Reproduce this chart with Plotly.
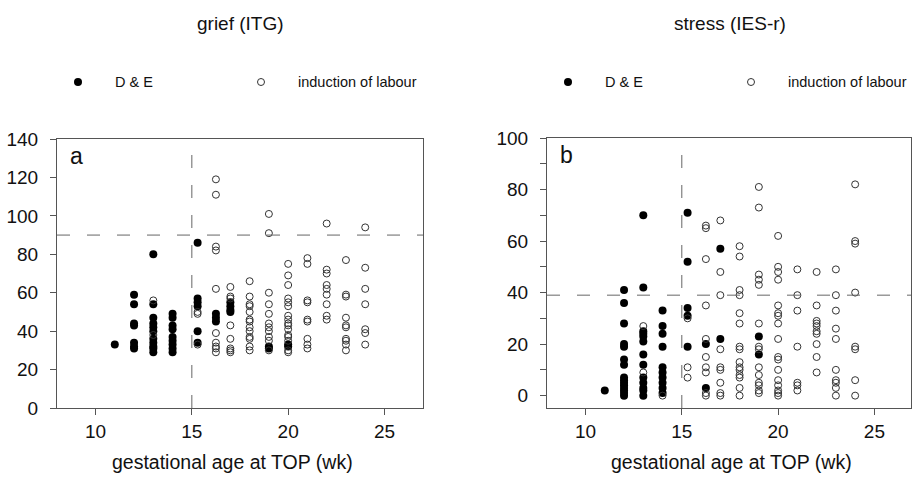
import plotly.graph_objects as go

# ---------------- data (gestational age in weeks, score) ----------------
# grief (ITG) - D & E
grief_de_x = [11,
              12, 12, 12, 12, 12, 12, 12,
              13, 13, 13, 13, 13, 13, 13, 13, 13, 13, 13,
              14, 14, 14, 14, 14, 14, 14, 14, 14,
              15.3, 15.3, 15.3, 15.3, 15.3, 15.3,
              16.25, 16.25, 16.25,
              17, 17, 17, 17,
              19, 19,
              20, 20]
grief_de_y = [33,
              59, 54, 44, 43, 34, 32, 31,
              80, 54, 47, 44, 42, 40, 36, 34, 32, 31, 29,
              49, 47, 43, 41, 37, 35, 33, 31, 29,
              86, 57, 55, 53, 40, 34,
              49, 47, 45,
              55, 53, 51, 50,
              32, 31,
              33, 32]

# grief (ITG) - induction of labour
grief_ind_x = [13, 13,
               15.3, 15.3, 15.3,
               16.25, 16.25, 16.25, 16.25, 16.25, 16.25, 16.25, 16.25, 16.25, 16.25,
               17, 17, 17, 17, 17, 17, 17, 17,
               18, 18, 18, 18, 18, 18, 18, 18, 18, 18, 18, 18, 18,
               19, 19, 19, 19, 19, 19, 19, 19, 19, 19, 19,
               20, 20, 20, 20, 20, 20, 20, 20, 20, 20, 20, 20, 20, 20, 20, 20,
               21, 21, 21, 21, 21, 21, 21, 21, 21,
               22, 22, 22, 22, 22, 22, 22, 22, 22,
               23, 23, 23, 23, 23, 23, 23, 23, 23, 23,
               24, 24, 24, 24, 24, 24, 24]
grief_ind_y = [56, 38,
               50, 49, 33,
               119, 111, 84, 82, 62, 39, 34, 32, 31, 29,
               63, 58, 57, 43, 36, 31, 30, 29,
               66, 58, 54, 53, 50, 46, 45, 42, 40, 37, 36, 32, 30,
               101, 91, 60, 54, 49, 44, 42, 40, 37, 35, 30,
               75, 69, 64, 57, 55, 53, 48, 46, 44, 43, 41, 38, 37, 35, 30, 29,
               78, 75, 56, 55, 46, 45, 36, 33, 31,
               96, 72, 70, 64, 62, 59, 54, 48, 46,
               77, 59, 58, 47, 43, 42, 36, 35, 33, 30,
               94, 73, 62, 54, 41, 39, 33]

# stress (IES-r) - D & E
stress_de_x = [11,
               12, 12, 12, 12, 12, 12, 12, 12, 12, 12, 12, 12, 12, 12, 12,
               13, 13, 13, 13, 13, 13, 13, 13, 13, 13, 13, 13, 13,
               14, 14, 14, 14, 14, 14, 14, 14, 14, 14,
               15.3, 15.3, 15.3, 15.3, 15.3,
               16.25, 16.25,
               17, 17,
               19, 19]
stress_de_y = [2,
               41, 36, 28, 20, 19, 14, 12, 7, 6, 5, 4, 3, 2, 1, 0,
               70, 42, 25, 24, 23, 21, 16, 12, 7, 5, 3, 2, 0,
               33, 27, 24, 19, 11, 9, 7, 5, 3, 1,
               71, 52, 34, 31, 19,
               20, 3,
               57, 22,
               23, 16]

# stress (IES-r) - induction of labour
stress_ind_x = [13, 13,
                14,
                15.3, 15.3, 15.3,
                16.25, 16.25, 16.25, 16.25, 16.25, 16.25, 16.25, 16.25, 16.25, 16.25,
                17, 17, 17, 17, 17, 17, 17, 17, 17,
                18, 18, 18, 18, 18, 18, 18, 18, 18, 18, 18, 18, 18, 18, 18,
                19, 19, 19, 19, 19, 19, 19, 19, 19, 19, 19, 19, 19, 19,
                20, 20, 20, 20, 20, 20, 20, 20, 20, 20, 20, 20, 20, 20, 20, 20, 20,
                21, 21, 21, 21, 21, 21, 21,
                22, 22, 22, 22, 22, 22, 22, 22, 22, 22,
                23, 23, 23, 23, 23, 23, 23, 23, 23, 23,
                24, 24, 24, 24, 24, 24, 24, 24]
stress_ind_y = [27, 9,
                0,
                30, 11, 7,
                66, 65, 53, 35, 22, 15, 11, 9, 1, 0,
                68, 48, 39, 18, 11, 10, 5, 1, 0,
                58, 54, 41, 39, 32, 28, 19, 18, 13, 11, 10, 8, 7, 3, 0,
                81, 73, 47, 45, 43, 28, 19, 18, 11, 8, 5, 4, 2, 1,
                62, 50, 48, 45, 35, 32, 31, 28, 22, 15, 14, 10, 6, 4, 2, 1, 0,
                49, 39, 33, 19, 5, 4, 2,
                48, 35, 29, 28, 27, 25, 24, 20, 15, 9,
                49, 39, 33, 26, 22, 10, 6, 5, 3, 0,
                82, 60, 59, 40, 19, 18, 6, 0]

panel_titles = ["grief (ITG)", "stress (IES-r)"]
panel_letters = ["a", "b"]
group_names = ["D & E", "induction of labour"]
x_title = "gestational age at TOP (wk)"
cutoff_week = 15
grief_cutoff = 90
stress_cutoff = 39

# ---------------- figure ----------------
W, H = 913, 477
FONT = "Liberation Sans, Arial, Helvetica, sans-serif"
AX = "#555555"

fig = go.Figure()

def add_points(xs, ys, xa, ya, filled, name):
    if filled:
        marker = dict(symbol="circle", size=8, color="black", line=dict(width=0))
    else:
        marker = dict(symbol="circle-open", size=7, color="#333333", line=dict(width=1, color="#333333"))
    fig.add_trace(go.Scatter(x=xs, y=ys, mode="markers", marker=marker, name=name,
                             xaxis=xa, yaxis=ya, showlegend=False))

add_points(grief_de_x, grief_de_y, "x", "y", True, group_names[0])
add_points(grief_ind_x, grief_ind_y, "x", "y", False, group_names[1])
add_points(stress_de_x, stress_de_y, "x2", "y2", True, group_names[0])
add_points(stress_ind_x, stress_ind_y, "x2", "y2", False, group_names[1])

axis_common = dict(showgrid=False, zeroline=False, showline=True, linecolor=AX, linewidth=1,
                   mirror=True, ticks="outside", ticklen=6, tickcolor=AX, tickwidth=1,
                   automargin=False,
                   tickfont=dict(size=19, color="#111111", family=FONT))

left_x0, left_x1 = 57, 423
right_x0, right_x1 = 547, 911
bot = 408

fig.update_layout(
    width=W, height=H, margin=dict(l=0, r=0, t=0, b=0, autoexpand=False),
    paper_bgcolor="white", plot_bgcolor="white", showlegend=False,
    font=dict(family=FONT, size=19, color="#111111"),
    xaxis=dict(axis_common, domain=[left_x0 / W, left_x1 / W], range=[8, 27],
               tickvals=[10, 15, 20, 25], anchor="y", ticklabelstandoff=0),
    yaxis=dict(axis_common, domain=[(H - bot) / H, (H - 139) / H], range=[0, 140],
               dtick=20, tick0=0, anchor="x", ticklabelstandoff=8),
    xaxis2=dict(axis_common, domain=[right_x0 / W, right_x1 / W], range=[8, 26.9],
                tickvals=[10, 15, 20, 25], anchor="y2", ticklabelstandoff=0),
    yaxis2=dict(axis_common, domain=[(H - bot) / H, (H - 138) / H], range=[-4.8, 100],
                dtick=20, tick0=0, anchor="x2", ticklabelstandoff=8,
                minor=dict(dtick=10, tick0=0, ticks="outside", ticklen=6, tickcolor=AX, showgrid=False)),
)

dash = "13px,17px"
LC = "#666666"
# cut-off lines
fig.add_shape(type="line", xref="x", yref="y", x0=8, x1=27, y0=grief_cutoff, y1=grief_cutoff,
              line=dict(color=LC, width=1, dash=dash))
fig.add_shape(type="line", xref="x", yref="y", x0=cutoff_week, x1=cutoff_week, y0=0, y1=140,
              line=dict(color=LC, width=1, dash=dash))
fig.add_shape(type="line", xref="x2", yref="y2", x0=8, x1=26.9, y0=stress_cutoff, y1=stress_cutoff,
              line=dict(color=LC, width=1, dash=dash))
fig.add_shape(type="line", xref="x2", yref="y2", x0=cutoff_week, x1=cutoff_week, y0=-4.8, y1=100,
              line=dict(color=LC, width=1, dash=dash))

def px(x):
    return x / W

def py(y):
    return (H - y) / H

annotations = []
for i, (cx0, cx1) in enumerate([(left_x0, 423), (right_x0, 913)]):
    center = (cx0 + cx1) / 2
    annotations.append(dict(text=panel_titles[i], x=px(center), y=py(24), xref="paper", yref="paper",
                            showarrow=False, xanchor="center", yanchor="middle",
                            font=dict(size=19, family=FONT, color="#111111")))
    annotations.append(dict(text=x_title, x=px(center - 8 + i * 9), y=py(462), xref="paper", yref="paper",
                            showarrow=False, xanchor="center", yanchor="middle",
                            font=dict(size=19.5, family=FONT, color="#111111")))
    annotations.append(dict(text=panel_letters[i], x=px(cx0 + 19), y=py(156 - i * 1), xref="paper",
                            yref="paper", showarrow=False, xanchor="center", yanchor="middle",
                            font=dict(size=23, family=FONT, color="#111111")))
    # legend
    annotations.append(dict(text=group_names[0], x=px(cx0 + 56), y=py(82), xref="paper", yref="paper",
                            showarrow=False, xanchor="left", yanchor="middle",
                            font=dict(size=14.5, family=FONT, color="#111111")))
    annotations.append(dict(text=group_names[1], x=px(cx0 + 239), y=py(82), xref="paper", yref="paper",
                            showarrow=False, xanchor="left", yanchor="middle",
                            font=dict(size=14.5, family=FONT, color="#111111")))
    fx = cx0 + 21
    fig.add_shape(type="circle", xref="paper", yref="paper", x0=px(fx - 4), x1=px(fx + 4),
                  y0=py(82 + 4), y1=py(82 - 4), fillcolor="black", line=dict(width=0))
    ox = cx0 + 204
    fig.add_shape(type="circle", xref="paper", yref="paper", x0=px(ox - 3.5), x1=px(ox + 3.5),
                  y0=py(82 + 3.5), y1=py(82 - 3.5), fillcolor="rgba(0,0,0,0)",
                  line=dict(width=1, color="#333333"))

fig.update_layout(annotations=annotations)

fig.write_html("out.html",
               config={"displayModeBar": False},
               post_script="document.documentElement.style.margin='0';"
                           "document.body.style.margin='0';document.body.style.padding='0';"
                           "document.body.style.overflow='hidden';")
